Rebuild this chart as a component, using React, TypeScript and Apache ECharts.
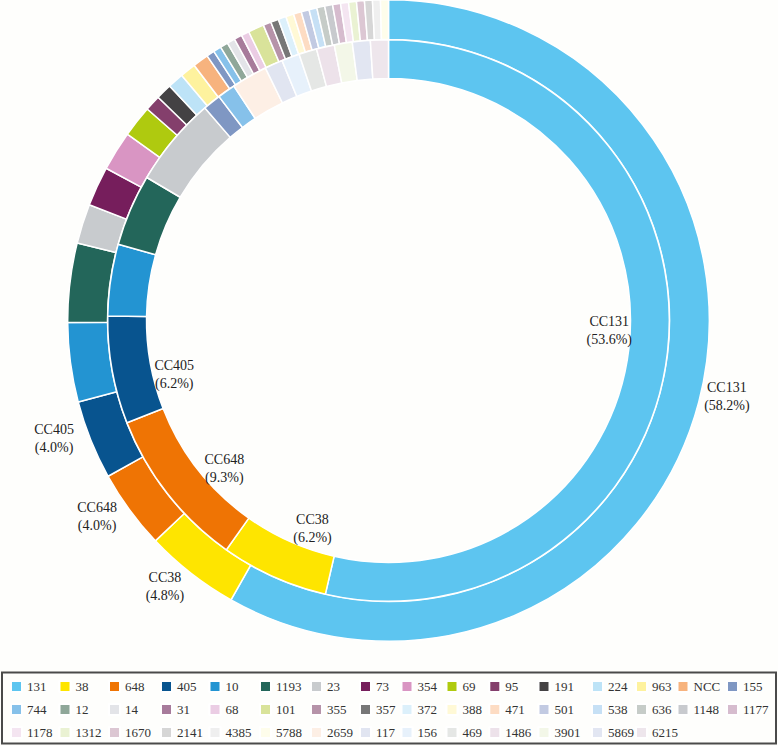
import React, { useEffect, useRef } from "react";
import * as echarts from "echarts";

// Outer ring (clonal complexes, larger collection)
const outerNames = ["131", "38", "648", "405", "10", "1193", "23", "73", "354", "69", "95", "191", "224", "963", "NCC", "155", "744", "12", "14", "31", "68", "101", "355", "357", "372", "388", "471", "501", "538", "636", "1148", "1177", "1178", "1312", "1670", "2141", "4385", "5788"];
const outerValues = [146, 12, 10, 10, 10, 10, 5, 5, 5, 4, 2, 2, 2, 2, 2, 1, 1, 1, 1, 1, 1, 2, 1, 1, 1, 1, 1, 1, 1, 1, 1, 1, 1, 1, 1, 1, 1, 1];

// Inner ring
const innerNames = ["131", "38", "648", "405", "10", "1193", "23", "155", "744", "2659", "117", "156", "469", "1486", "3901", "5869", "6215"];
const innerValues = [52, 6, 9, 6, 4, 4, 5, 1, 1, 2, 1, 1, 1, 1, 1, 1, 1];

// Names that carry a label
const labelledNames = ["131", "38", "648", "405"];

// Legend order
const legendNames = [...outerNames, "2659", "117", "156", "469", "1486", "3901", "5869", "6215"];

const colorList = ["#5dc5f0", "#fee500", "#ef7404", "#08548f", "#2394d2", "#23665a", "#c8cbce", "#761e5c", "#d995c3", "#afca0f", "#843f6c", "#444244", "#bde3f7", "#fef29e", "#f7b37e", "#7f97c3", "#86c1ea", "#8fa799", "#e3e4e8", "#a77b9b", "#ebcde4", "#d9e39a", "#b693a9", "#777777", "#dcf0fb", "#fff9d6", "#fddcc3", "#c2cae2", "#c6e0f5", "#c6ccc8", "#c8cace", "#d6bcce", "#f4e5f1", "#eaf2d3", "#dcc7d3", "#d6d6d6", "#efefef", "#fefdeb", "#fdefe5", "#e1e5f1", "#e7f1fb", "#e5e7e5", "#ede2ea", "#f3f7e8", "#e2e6f2", "#eee6ec"];

const FONT = '"Liberation Serif", "DejaVu Serif", serif';

export default function App() {
  const ref = useRef<HTMLDivElement>(null);

  useEffect(() => {
    document.body.style.margin = "0";
    const chart = echarts.init(ref.current!, null, { renderer: "svg" });
    const colorOf: Record<string, string> = {};
    legendNames.forEach((n, i) => (colorOf[n] = colorList[i]));

    const outerTotal = outerValues.reduce((a, b) => a + b, 0);
    const innerTotal = innerValues.reduce((a, b) => a + b, 0);

    const mk = (names: string[], values: number[], transparent: boolean) =>
      names.map((n, i) => ({
        name: n,
        value: values[i],
        itemStyle: { color: transparent ? "rgba(0,0,0,0)" : colorOf[n] },
      }));

    const fmt = (total: number) => (p: any) =>
      labelledNames.includes(p.name)
        ? `CC${p.name}\n(${((p.value / total) * 100).toFixed(1)}%)`
        : "";

    const center = [388.5, 320.5];

    const baseSeries = {
      type: "pie",
      center,
      startAngle: 90,
      clockwise: true,
      avoidLabelOverlap: false,
      labelLine: { show: false },
      emphasis: { disabled: true },
    };

    const labelStyle = {
      show: true,
      position: "inside",
      fontFamily: FONT,
      fontSize: 14,
      lineHeight: 18,
      color: "#222",
      align: "center",
    };

    const series: any[] = [
      {
        ...baseSeries,
        name: "outer",
        radius: [281, 320.8],
        itemStyle: { borderColor: "#ffffff", borderWidth: 1.5 },
        label: { show: false },
        data: mk(outerNames, outerValues, false),
      },
      {
        ...baseSeries,
        name: "inner",
        radius: [242, 280.8],
        itemStyle: { borderColor: "#ffffff", borderWidth: 1.5 },
        label: { show: false },
        data: mk(innerNames, innerValues, false),
      },
      {
        ...baseSeries,
        name: "outerLabels",
        silent: true,
        radius: [336, 368],
        itemStyle: { borderWidth: 0 },
        label: { ...labelStyle, offset: [-5, -14], formatter: fmt(outerTotal) },
        data: mk(outerNames, outerValues, true),
      },
      {
        ...baseSeries,
        name: "innerLabels",
        silent: true,
        startAngle: 94,
        radius: [202, 234],
        itemStyle: { borderWidth: 0 },
        label: { ...labelStyle, formatter: fmt(innerTotal) },
        data: mk(innerNames, innerValues, true),
      },
    ];

    // legend laid out as 16 columns x 3 rows
    const perRow = 16;
    const colX = [10, 58.5, 108, 160, 208.5, 259, 310, 359, 400.5, 445.5, 488.3, 537.5, 591, 635, 676.5, 726];
    const legends: any[] = [];
    for (let c = 0; c < perRow; c++) {
      const col: string[] = [];
      for (let r = 0; r * perRow + c < legendNames.length; r++) col.push(legendNames[r * perRow + c]);
      legends.push({
        orient: "vertical",
        left: colX[c],
        top: 680,
        padding: 0,
        itemWidth: 11,
        itemHeight: 11,
        itemGap: 10,
        icon: "rect",
        selectedMode: false,
        textStyle: { fontFamily: FONT, fontSize: 13, color: "#333" },
        data: col,
      });
    }

    chart.setOption({
      animation: false,
      backgroundColor: "#fefefc",
      textStyle: { fontFamily: FONT },
      legend: legends,
      graphic: [
        {
          type: "rect",
          shape: { x: 2, y: 672.5, width: 774, height: 71 },
          style: { fill: "none", stroke: "#4a4a4a", lineWidth: 2 },
          silent: true,
        },
      ],
      series,
    });

    return () => chart.dispose();
  }, []);

  return <div ref={ref} style={{ width: 778, height: 746 }} />;
}
